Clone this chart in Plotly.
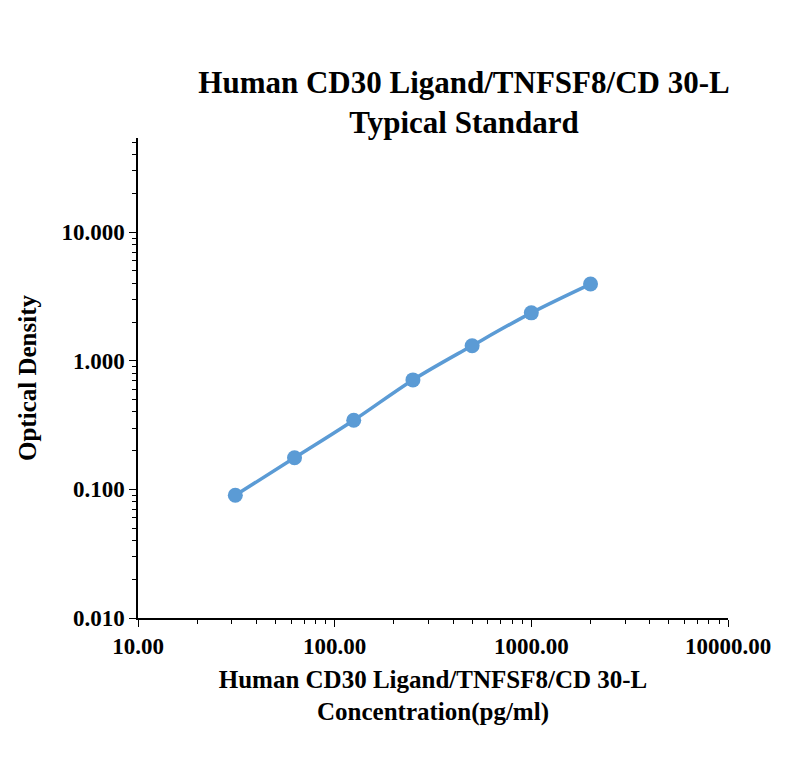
import numpy as np
import plotly.graph_objects as go

# standard curve values
conc = [31.25, 62.5, 125, 250, 500, 1000, 2000]
od = [0.090, 0.176, 0.345, 0.710, 1.31, 2.36, 3.95]

x_ticks = [10, 100, 1000, 10000]
x_labels = ["10.00", "100.00", "1000.00", "10000.00"]
y_ticks = [0.01, 0.1, 1, 10]
y_labels = ["0.010", "0.100", "1.000", "10.000"]

x_minor = [m * 10**e for e in range(1, 4) for m in range(2, 10)]
y_minor = [m * 10.0**e for e in range(-2, 2) for m in range(2, 10) if m * 10.0**e < 54]

font = dict(family="Liberation Serif", size=25, color="black", weight="bold")

fig = go.Figure(go.Scatter(
    x=conc, y=od, mode="lines+markers",
    line=dict(color="#5B9BD5", width=3.5, shape="spline"),
    marker=dict(size=15, color="#5B9BD5"),
))

axis_common = dict(
    showgrid=False, zeroline=False, showline=True, linecolor="black", linewidth=1.5,
    ticks="outside", ticklen=7, tickcolor="black",
    tickfont=dict(family="Liberation Serif", size=23, color="black", weight="bold"),
)

fig.update_xaxes(type="log", range=[1, 4], tickvals=x_ticks, ticktext=x_labels,
                 minor=dict(tickvals=x_minor, ticks="outside", ticklen=4, tickcolor="black", showgrid=False),
                 title=dict(text="Human CD30 Ligand/TNFSF8/CD 30-L<br>Concentration(pg/ml)",
                            font=font, standoff=12), **axis_common)
fig.update_yaxes(type="log", range=[-2, np.log10(54)], tickvals=y_ticks, ticktext=y_labels,
                 minor=dict(tickvals=y_minor, ticks="outside", ticklen=4, tickcolor="black", showgrid=False),
                 title=dict(text="Optical Density", font=font, standoff=18), **axis_common)

fig.update_layout(
    width=800, height=770,
    paper_bgcolor="white", plot_bgcolor="white",
    margin=dict(l=130, r=80, t=130, b=160),
    showlegend=False,
    title=dict(text="Human CD30 Ligand/TNFSF8/CD 30-L<br>Typical Standard",
               x=0.57, xanchor="center", y=0.89, yanchor="middle",
               font=dict(family="Liberation Serif", size=31, color="black", weight="bold")),
)

fig.write_html("out.html")
